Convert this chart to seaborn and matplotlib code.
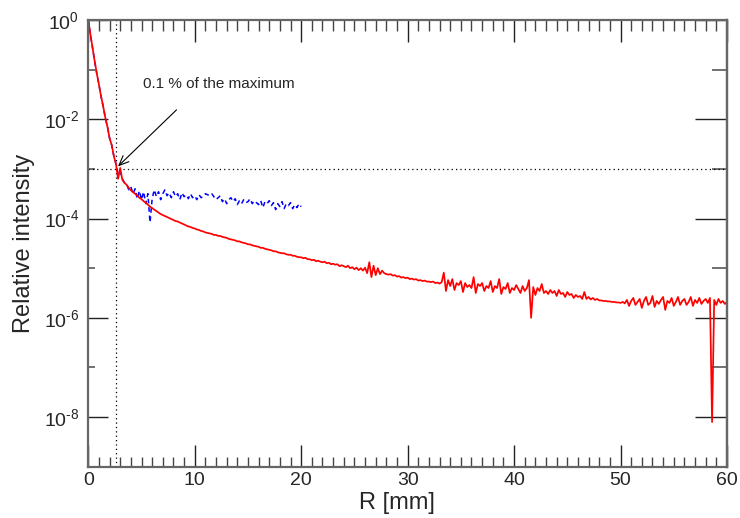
import numpy as np
import matplotlib
matplotlib.use("Agg")
import matplotlib.pyplot as plt
import seaborn as sns
from matplotlib.ticker import FixedLocator, FuncFormatter, NullFormatter

# ---------------- data (log10 of relative intensity, sampled every 0.2 mm) ----------------
R_STEP = 0.2

LOG_RED = [
    0.00, -0.29, -0.56, -0.83, -1.08, -1.30, -1.54, -1.74, -1.97, -2.15,
    -2.38, -2.52, -2.74, -2.90, -3.20, -2.98, -3.22, -3.28, -3.32, -3.38,
    -3.43, -3.47, -3.50, -3.54, -3.58, -3.61, -3.65, -3.68, -3.72, -3.76,
    -3.79, -3.82, -3.85, -3.88, -3.91, -3.93, -3.95, -3.97, -3.99, -4.01,
    -4.03, -4.05, -4.06, -4.08, -4.10, -4.12, -4.14, -4.16, -4.17, -4.19,
    -4.20, -4.22, -4.23, -4.25, -4.26, -4.28, -4.29, -4.30, -4.31, -4.33,
    -4.33, -4.35, -4.35, -4.37, -4.38, -4.39, -4.41, -4.42, -4.43, -4.44,
    -4.46, -4.46, -4.48, -4.49, -4.50, -4.52, -4.52, -4.54, -4.55, -4.56,
    -4.57, -4.59, -4.59, -4.61, -4.62, -4.63, -4.64, -4.66, -4.66, -4.68,
    -4.69, -4.70, -4.70, -4.72, -4.73, -4.73, -4.75, -4.75, -4.77, -4.78,
    -4.78, -4.80, -4.79, -4.82, -4.82, -4.84, -4.83, -4.86, -4.85, -4.87,
    -4.88, -4.87, -4.90, -4.89, -4.92, -4.91, -4.93, -4.92, -4.96, -4.94,
    -4.96, -4.98, -4.95, -5.00, -4.98, -5.02, -4.99, -5.04, -5.00, -5.05,
    -4.99, -5.10, -4.88, -5.18, -4.95, -5.14, -5.00, -5.12, -5.05, -5.10,
    -5.12, -5.13, -5.12, -5.15, -5.14, -5.17, -5.16, -5.19, -5.18, -5.20,
    -5.19, -5.22, -5.21, -5.23, -5.22, -5.25, -5.24, -5.26, -5.25, -5.27,
    -5.27, -5.28, -5.27, -5.30, -5.29, -5.31, -5.28, -5.09, -5.46, -5.24,
    -5.36, -5.22, -5.44, -5.30, -5.34, -5.26, -5.48, -5.30, -5.38, -5.34,
    -5.40, -5.18, -5.50, -5.32, -5.36, -5.30, -5.46, -5.36, -5.40, -5.26,
    -5.48, -5.36, -5.40, -5.22, -5.52, -5.38, -5.42, -5.30, -5.50, -5.40,
    -5.44, -5.34, -5.42, -5.50, -5.36, -5.46, -5.40, -5.24, -6.00, -5.38,
    -5.54, -5.40, -5.46, -5.32, -5.50, -5.46, -5.52, -5.44, -5.50, -5.46,
    -5.56, -5.44, -5.52, -5.50, -5.58, -5.48, -5.54, -5.52, -5.60, -5.54,
    -5.58, -5.56, -5.62, -5.48, -5.62, -5.58, -5.63, -5.60, -5.64, -5.62,
    -5.65, -5.65, -5.66, -5.66, -5.67, -5.67, -5.68, -5.68, -5.69, -5.69,
    -5.70, -5.68, -5.71, -5.64, -5.76, -5.66, -5.60, -5.74, -5.68, -5.62,
    -5.80, -5.66, -5.58, -5.74, -5.70, -5.56, -5.78, -5.66, -5.72, -5.64,
    -5.58, -5.84, -5.66, -5.70, -5.60, -5.76, -5.68, -5.58, -5.74, -5.66,
    -5.62, -5.74, -5.68, -5.58, -5.76, -5.64, -5.70, -5.60, -5.72, -5.66,
    -5.62, -5.70, -5.60, -8.10, -5.64, -5.74, -5.62, -5.70, -5.66, -5.72,
    -5.68,
]

LOG_BLUE = [
    0.00, -0.29, -0.56, -0.83, -1.08, -1.30, -1.54, -1.74, -1.97, -2.15,
    -2.38, -2.52, -2.74, -2.90, -3.10, -3.05, -3.20, -3.28, -3.30, -3.42,
    -3.36, -3.50, -3.40, -3.60, -3.44, -3.62, -3.46, -3.70, -3.50, -4.08,
    -3.60, -3.42, -3.56, -3.46, -3.62, -3.50, -3.42, -3.54, -3.48, -3.58,
    -3.46, -3.56, -3.50, -3.62, -3.48, -3.56, -3.52, -3.60, -3.50, -3.58,
    -3.54, -3.62, -3.52, -3.58, -3.56, -3.50, -3.52, -3.54, -3.50, -3.56,
    -3.62, -3.58, -3.54, -3.66, -3.60, -3.70, -3.62, -3.58, -3.66, -3.60,
    -3.72, -3.64, -3.70, -3.62, -3.68, -3.66, -3.60, -3.70, -3.64, -3.68,
    -3.72, -3.64, -3.78, -3.66, -3.70, -3.64, -3.74, -3.68, -3.82, -3.70,
    -3.76, -3.66, -3.80, -3.70, -3.74, -3.68, -3.80, -3.72, -3.78, -3.70,
    -3.76,
]

R_CUT = 2.6            # radius where the profile reaches 0.1 % of maximum
LEVEL = 1e-3           # 0.1 % of the maximum
Y_MAJOR = [1e0, 1e-2, 1e-4, 1e-6, 1e-8]
Y_MINOR = [1e-1, 1e-3, 1e-5, 1e-7]
X_MAJOR = [0, 10, 20, 30, 40, 50, 60]
ANNOT_TEXT = "0.1 % of the maximum"

R_red = np.round(np.arange(len(LOG_RED)) * R_STEP, 1)
I_red = 10.0 ** np.array(LOG_RED)
R_blue = np.round(np.arange(len(LOG_BLUE)) * R_STEP, 1)
I_blue = 10.0 ** np.array(LOG_BLUE)

# ---------------- style ----------------
sns.set_style("ticks")
plt.rcParams["font.family"] = ["Liberation Sans", "DejaVu Sans"]
plt.rcParams["mathtext.fontset"] = "custom"
plt.rcParams["mathtext.rm"] = "Liberation Sans"
plt.rcParams["mathtext.it"] = "Liberation Sans:italic"
plt.rcParams["mathtext.bf"] = "Liberation Sans:bold"

PX = 72.0 / 100.0   # points per pixel at dpi 100

fig = plt.figure(figsize=(7.40, 5.18), dpi=100)
ax = fig.add_axes([0.1193, 0.099, 0.9824 - 0.1193, 0.9614 - 0.099])

sns.lineplot(x=R_blue, y=I_blue, color="#0000ff", lw=1.1,
             linestyle=(0, (3, 2.5)), errorbar=None, ax=ax)
sns.lineplot(x=R_red, y=I_red, color="#ff0000", lw=1.25, errorbar=None, ax=ax)

ax.set_yscale("log")
ax.set_xlim(0, 60)
ax.set_ylim(1e-9, 1e0)

ax.axvline(R_CUT, color="black", ls=(0, (1, 2.5)), lw=0.9, zorder=1)
ax.axhline(LEVEL, color="black", ls=(0, (1, 2.5)), lw=0.9, zorder=1)

ax.annotate("", xy=(2.79, 10 ** -2.95), xytext=(8.29, 10 ** -1.81),
            arrowprops=dict(arrowstyle="->,head_length=0.7,head_width=0.3",
                            lw=0.8, color="black", shrinkA=0, shrinkB=0))
ax.text(5.13, 10 ** -1.29, ANNOT_TEXT, fontsize=11, ha="left", va="center")


def dec_fmt(v, pos):
    e = int(round(np.log10(v)))
    if e < 0:
        return r"$\mathdefault{10^{\text{-}%d}}$" % (-e)
    return r"$\mathdefault{10^{%d}}$" % e


# ticks
ax.yaxis.set_major_locator(FixedLocator(Y_MAJOR))
ax.yaxis.set_minor_locator(FixedLocator(Y_MINOR))
ax.yaxis.set_major_formatter(FuncFormatter(dec_fmt))
ax.yaxis.set_minor_formatter(NullFormatter())
ax.xaxis.set_major_locator(FixedLocator(X_MAJOR))
ax.xaxis.set_minor_locator(FixedLocator(list(range(1, 60))))

ax.tick_params(axis="y", which="major", direction="in", length=20 * PX, width=1.0,
               color="#222222", labelsize=14, pad=6.5, left=True, right=False)
ax.tick_params(axis="y", which="minor", direction="in", length=7 * PX, width=1.3,
               color="#666666", left=True, right=False)
ax.tick_params(axis="x", which="major", direction="in", length=22 * PX, width=1.0,
               color="#222222", labelsize=14, pad=4, top=True, bottom=True)
ax.tick_params(axis="x", which="minor", direction="in", length=10.5 * PX, width=1.0,
               color="#444444", top=True, bottom=True)

sec = ax.secondary_yaxis("right")
sec.yaxis.set_major_locator(FixedLocator(Y_MAJOR))
sec.yaxis.set_minor_locator(FixedLocator(Y_MINOR))
sec.yaxis.set_major_formatter(NullFormatter())
sec.yaxis.set_minor_formatter(NullFormatter())
sec.tick_params(axis="y", which="major", direction="in", length=32 * PX, width=1.0,
                color="#222222")
sec.tick_params(axis="y", which="minor", direction="in", length=15 * PX, width=1.3,
                color="#666666")
sec.spines["right"].set_color("#666666")
sec.spines["right"].set_linewidth(1.6)

for s in ax.spines.values():
    s.set_color("#666666")
    s.set_linewidth(1.6)

ax.set_xlabel("R [mm]", fontsize=17)
ax.set_ylabel("Relative intensity", fontsize=17)
ax.xaxis.set_label_coords(0.4826, -0.057)
ax.yaxis.set_label_coords(-0.083, 0.5)

fig.savefig("out.png", dpi=100)
